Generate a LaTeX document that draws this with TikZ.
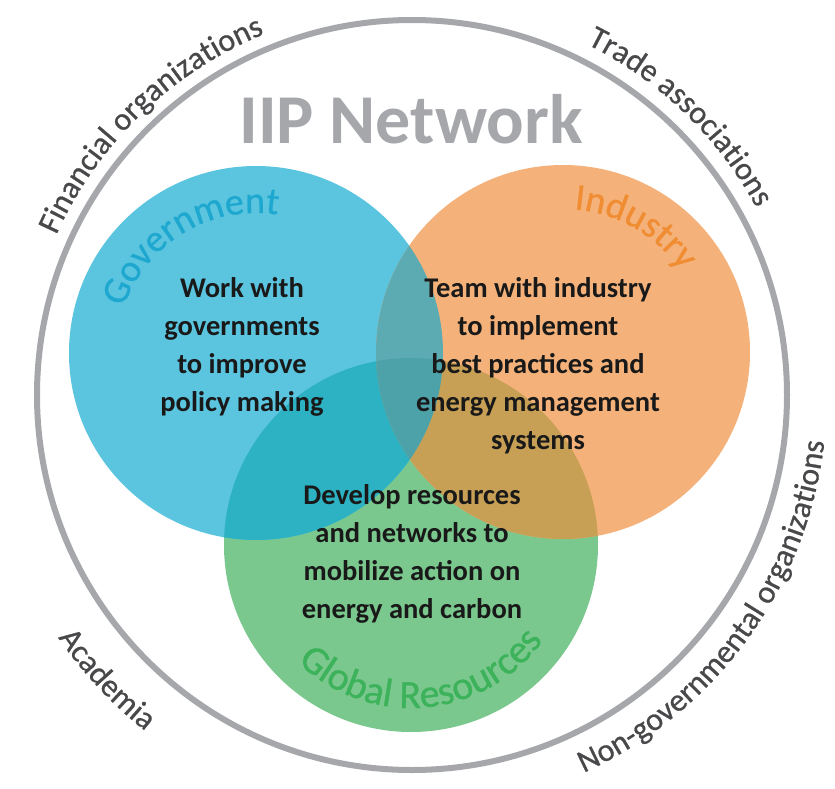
\documentclass[tikz,border=0pt]{standalone}
\usepackage{fontspec}
\setmainfont{Carlito}
\newfontfamily\lblfont[FakeBold=0.7]{Carlito}
\usetikzlibrary{calc,decorations.text}
\definecolor{govfill}{RGB}{91,196,223}
\definecolor{indfill}{RGB}{244,178,122}
\definecolor{globfill}{RGB}{122,200,142}
\definecolor{govglob}{RGB}{44,178,194}
\definecolor{indglob}{RGB}{200,160,85}
\definecolor{govind}{RGB}{92,170,178}
\definecolor{allthree}{RGB}{76,162,168}
\definecolor{ringgray}{RGB}{165,167,170}
\definecolor{lblgray}{RGB}{72,72,74}
\definecolor{govtext}{RGB}{30,168,208}
\definecolor{indtext}{RGB}{240,140,50}
\definecolor{globtext}{RGB}{60,178,90}
\newcommand\bodyfont{\bfseries\fontsize{28.5}{38}\selectfont}
\newcommand\outerlbl{\color{lblgray}\lblfont\fontsize{32}{32}\selectfont}
\newcommand\govlbl{\color{govtext}\lblfont\fontsize{38}{38}\selectfont}
\newcommand\indlbl{\color{indtext}\lblfont\fontsize{38}{38}\selectfont}
\newcommand\globlbl{\color{globtext}\lblfont\fontsize{40}{40}\selectfont}
\begin{document}
\begin{tikzpicture}[x=1pt,y=1pt,
	venn/.style={circle,minimum size=374pt,inner sep=0pt},
	bodytext/.style={align=center,font=\bodyfont,text=black!90}]
	\useasboundingbox (-412,-393) rectangle (423,395);
	\node[venn,fill=globfill] (glob) at (-1,-150) {};
	\node[venn,fill=govfill] (gov) at (-156,42) {};
	\node[venn,fill=indfill] (ind) at (151,43) {};
	\begin{scope}
		\clip (glob.center) circle (187);
		\fill[govglob] (gov.center) circle (187);
		\fill[indglob] (ind.center) circle (187);
	\end{scope}
	\begin{scope}
		\clip (gov.center) circle (187);
		\fill[govind] (ind.center) circle (187);
		\clip (glob.center) circle (187);
		\fill[allthree] (ind.center) circle (187);
	\end{scope}
	\node[circle,draw=ringgray,line width=6pt,minimum size=750pt,inner sep=0pt] (ring) at (0,0) {};
	\node[font=\bfseries\fontsize{70}{70}\selectfont,text=ringgray,anchor=base] (title) at (-1,252) {IIP Network};
	\node[bodytext] (govtxt) at (-170,48) {Work with\\governments\\to improve\\policy making};
	\node[bodytext] (indtxt) at (126,29) {Team with industry\\to implement\\best practices and\\energy management\\systems};
	\node[bodytext] (globtxt) at (0,-159) {Develop resources\\and networks to\\mobilize action on\\energy and carbon};
	\path[decorate,decoration={text along path,text align=center,text={|\govlbl|Government}}]
		($(gov.center)+(191:140)$) arc[start angle=191,end angle=51,radius=140];
	\path[decorate,decoration={text along path,text align=center,text={|\indlbl|Industry}}]
		($(ind.center)+(120:143)$) arc[start angle=120,end angle=0,radius=143];
	\path[decorate,decoration={text along path,text align=center,text={|\globlbl|Global Resources}}]
		($(glob.center)+(200:163)$) arc[start angle=200,end angle=350,radius=163];
	\path[decorate,decoration={text along path,text align=center,text={|\outerlbl|Financial organizations}}]
		($(ring.center)+(180:390)$) arc[start angle=180,end angle=88,radius=390];
	\path[decorate,decoration={text along path,text align=center,text={|\outerlbl|Trade associations}}]
		($(ring.center)+(92:392)$) arc[start angle=92,end angle=0,radius=392];
	\path[decorate,decoration={text along path,text align=center,text={|\outerlbl|Academia}}]
		($(ring.center)+(200:429)$) arc[start angle=200,end angle=246,radius=429];
	\path[decorate,decoration={text along path,text align=center,text={|\outerlbl|Non-governmental organizations}}]
		($(ring.center)+(270:415)$) arc[start angle=270,end angle=378,radius=415];
\end{tikzpicture}
\end{document}
